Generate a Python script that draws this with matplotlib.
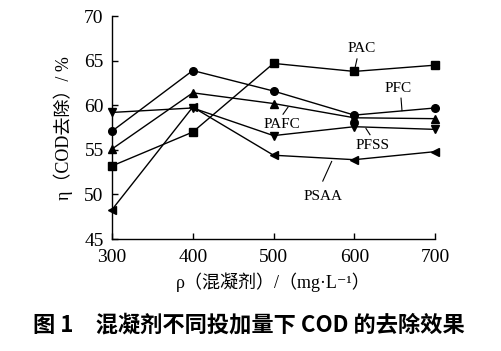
import matplotlib
matplotlib.use("Agg")
import matplotlib.pyplot as plt

# coagulant dose, mg/L
dose = [300, 400, 500, 600, 700]

# COD removal, %
pac = [53.2, 57.0, 64.7, 63.8, 64.5]
pfc = [57.1, 63.9, 61.6, 58.9, 59.7]
pafc = [55.1, 61.4, 60.2, 58.6, 58.5]
pfss = [59.2, 59.7, 56.6, 57.6, 57.3]
psaa = [48.3, 59.8, 54.4, 53.9, 54.8]

yticks = [45, 50, 55, 60, 65, 70]

FAM = ["Liberation Serif", "Noto Sans CJK SC", "DejaVu Serif"]
plt.rcParams["font.family"] = FAM

fig = plt.figure(figsize=(5.01, 3.51), dpi=100)
ax = fig.add_axes([0.2236, 0.319, 0.6447, 0.635])

series = [
    (pac, "s"),
    (pfc, "o"),
    (pafc, "^"),
    (pfss, "v"),
    (psaa, "<"),
]
for vals, mk in series:
    ax.plot(dose, vals, color="black", lw=1.0, marker=mk, ms=5.5,
            mfc="black", mec="black", clip_on=False)

# curve labels with leader lines
labels = [
    ("PAC", (609, 66.4), (603.4, 65.2), (599.7, 63.7)),
    ("PFC", (654, 61.9), (657.9, 60.8), (659.1, 59.4)),
    ("PAFC", (511, 57.8), (511.8, 59.0), (518, 59.8)),
    ("PFSS", (623, 55.5), (619.5, 56.7), (614.5, 57.4)),
    ("PSAA", (561, 49.8), (561, 51.5), (572, 53.7)),
]
for name, tpos, p0, p1 in labels:
    ax.text(tpos[0], tpos[1], name, ha="center", va="center", fontsize=11,
            family="Liberation Serif")
    ax.plot([p0[0], p1[0]], [p0[1], p1[1]], color="black", lw=0.8)

ax.set_xlim(300, 700)
ax.set_ylim(45, 70)
ax.set_xticks(dose)
ax.set_yticks(yticks)
ax.tick_params(direction="in", length=4, width=1, labelsize=14)
ax.tick_params(axis="y", pad=6)
ax.tick_params(axis="x", pad=7)
for lab in ax.get_xticklabels() + ax.get_yticklabels():
    lab.set_family("Liberation Serif")
ax.spines["top"].set_visible(False)
ax.spines["right"].set_visible(False)
for s in ("left", "bottom"):
    ax.spines[s].set_linewidth(1.0)

ax.set_ylabel("η（COD去除）/ %", fontsize=13, labelpad=8)
ax.set_xlabel("ρ（混凝剂）/（mg·L⁻¹）", fontsize=13, labelpad=5)

fig.text(0.497, 0.073, "图 1　混凝剂不同投加量下 COD 的去除效果", ha="center",
         va="center", fontsize=16, fontweight="bold",
         family=["Noto Sans CJK SC", "DejaVu Sans"])

fig.savefig("out.png", dpi=100)
